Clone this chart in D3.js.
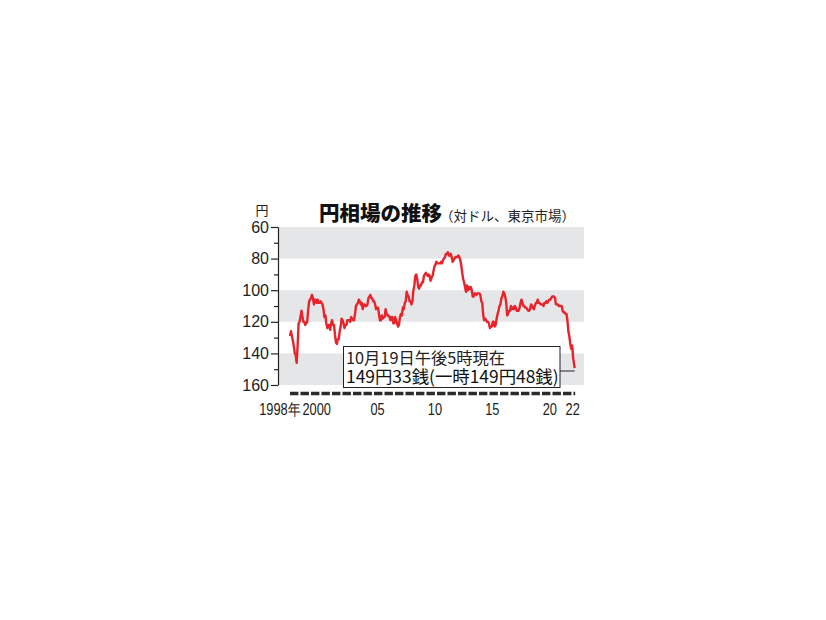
<!DOCTYPE html>
<html><head><meta charset="utf-8">
<script src="https://cdn.jsdelivr.net/npm/d3@7"></script>
<style>
html,body{margin:0;padding:0;background:#fff;}
svg{display:block;}
</style></head>
<body>
<svg id="chart" width="826" height="620"></svg>
<script>
// ---- data ----
const startMonth = "1998-01";
// monthly USD/JPY (yen per dollar), Jan 1998 .. Sep 2022
const rates1998 = [129,126,129,132,135,140,141,146,135,121,120,117];
const rates1999 = [113,117,120,120,122,121,120,113,107,106,105,103];
const rates2000 = [105,109,106,106,108,106,108,108,107,108,109,112];
const rates2001 = [117,116,121,124,122,122,125,121,119,122,122,128];
const rates2002 = [133,134,131,131,126,123,118,119,121,124,122,122];
const rates2003 = [119,119,119,120,117,118,119,119,115,110,109,108];
const rates2004 = [106,107,109,108,112,109,109,110,110,109,105,104];
const rates2005 = [103,105,105,107,107,109,112,111,111,115,119,119];
const rates2006 = [116,118,117,117,112,115,116,116,117,119,117,117];
const rates2007 = [121,121,117,119,121,123,122,117,115,116,111,112];
const rates2008 = [108,107,101,103,104,107,107,109,107,100,97,91];
const rates2009 = [90,93,98,99,97,97,95,95,91,90,89,90];
const rates2010 = [91,90,91,94,92,91,88,85,84,82,83,83];
const rates2011 = [83,83,82,83,81,80,79,77,77,76,78,78];
const rates2012 = [77,79,82,81,80,79,79,79,78,79,81,84];
const rates2013 = [89,93,95,98,101,97,100,98,99,98,100,104];
const rates2014 = [104,102,102,103,102,102,102,103,107,108,116,119];
const rates2015 = [118,119,120,120,121,124,123,123,120,120,123,122];
const rates2016 = [118,115,113,110,109,105,104,101,102,104,108,116];
const rates2017 = [115,113,113,110,112,111,112,110,111,113,113,113];
const rates2018 = [111,108,106,108,110,110,111,111,112,113,113,112];
const rates2019 = [109,110,111,112,110,108,108,106,108,108,109,109];
const rates2020 = [109,110,108,108,107,108,107,106,106,105,104,104];
const rates2021 = [104,105,109,109,109,110,110,110,110,113,114,114];
const rates2022 = [115,115,119,126,129,134,137,135,143];
const lastDate = "2022-10-19";
const lastRate = 149.33;

const yTicks = [60,80,100,120,140,160];
const yMinorTicks = [70,90,110,130,150];
const greyBands = [[60,80],[100,120],[140,160]];
const xLabels = ["1998年","2000","05","10","15","20","22"];
const xLabelYears = [1998,2000,2005,2010,2015,2020,2022];

const titleText = "円相場の推移";
const subtitleText = "（対ドル、東京市場）";
const unitText = "円";
const noteLine1 = "10月19日午後5時現在";
const noteLine2 = "149円33銭(一時149円48銭)";

// ---- build series ----
const allRates = [].concat(rates1998,rates1999,rates2000,rates2001,rates2002,rates2003,
  rates2004,rates2005,rates2006,rates2007,rates2008,rates2009,rates2010,rates2011,rates2012,
  rates2013,rates2014,rates2015,rates2016,rates2017,rates2018,rates2019,rates2020,rates2021,rates2022);
const parseMonth = d3.timeParse("%Y-%m");
const parseDay = d3.timeParse("%Y-%m-%d");
const m0 = parseMonth(startMonth);
const series = allRates.map((v,i)=>({date: d3.timeMonth.offset(m0, i), value: v}));
series.push({date: parseDay(lastDate), value: lastRate});

// ---- layout ----
const svg = d3.select("#chart");
const x = d3.scaleTime()
  .domain([new Date(1998,0,1), new Date(2023,0,1)])
  .range([290, 577]);
const y = d3.scaleLinear().domain([60,160]).range([227,385]);
const axisX = 278, bandRight = 584;

// bands
svg.append("g").selectAll("rect").data(greyBands).join("rect")
  .attr("x", axisX).attr("width", bandRight-axisX)
  .attr("y", d=>y(d[0])).attr("height", d=>y(d[1])-y(d[0]))
  .attr("fill", "#e5e6e8");

// y axis
const gy = svg.append("g").attr("transform", `translate(${axisX},0)`)
  .call(d3.axisLeft(y).tickValues(yTicks).tickSize(7).tickSizeOuter(0).tickPadding(2));
gy.select(".domain").attr("stroke","#222").attr("stroke-width",1.2);
gy.selectAll(".tick line").attr("stroke","#222").attr("stroke-width",1.2);
gy.selectAll(".tick text").attr("font-family","'Liberation Sans', Arial, sans-serif")
  .attr("font-size",16).attr("fill","#222");
const gym = svg.append("g").attr("transform", `translate(${axisX},0)`)
  .call(d3.axisLeft(y).tickValues(yMinorTicks).tickSize(4).tickSizeOuter(0).tickFormat(""));
gym.select(".domain").remove();
gym.selectAll(".tick line").attr("stroke","#222").attr("stroke-width",1.2);

// dashed x axis baseline
svg.append("line")
  .attr("x1", x(new Date(1998,0,1))).attr("x2", x(parseDay("2022-11-05")))
  .attr("y1", 393.5).attr("y2", 393.5)
  .attr("stroke","#2a2a2a").attr("stroke-width",3.4).attr("stroke-dasharray","8.4,2.1");

// x labels (condensed look)
const xl = svg.append("g").attr("font-family","'Liberation Sans', Arial, sans-serif")
  .attr("font-size",16).attr("fill","#222");
xLabels.forEach((t,i)=>{
  const yr = xLabelYears[i];
  let px, anchor = "middle";
  if (i === 0) { px = x(new Date(yr,0,1)) + 10; anchor = "end"; }
  else if (i === 1) { px = x(new Date(yr,6,1)) - 2; }
  else { px = x(new Date(yr,6,1)) + 1.5; }
  xl.append("text").attr("transform",`translate(${px},415) scale(0.8,1)`)
    .attr("text-anchor",anchor).text(t);
});

// line
const line = d3.line().x(d=>x(d.date)).y(d=>y(d.value)).curve(d3.curveLinear);
svg.append("path").datum(series).attr("d", line)
  .attr("fill","none").attr("stroke","#e8232b").attr("stroke-width",2.4)
  .attr("stroke-linejoin","round");

// annotation box
const last = series[series.length-1];
svg.append("line").attr("x1",560).attr("x2",x(last.date)).attr("y1",371).attr("y2",371)
  .attr("stroke","#222").attr("stroke-width",1);
svg.append("rect").attr("x",343.5).attr("y",346.5).attr("width",216.5).attr("height",41)
  .attr("fill","#fff").attr("stroke","#222").attr("stroke-width",1);
svg.append("text").attr("x",346).attr("y",363.5)
  .attr("font-family","'Noto Sans CJK JP', sans-serif").attr("font-size",16.3).attr("fill","#222")
  .text(noteLine1);
svg.append("text").attr("x",346).attr("y",383)
  .attr("font-family","'Noto Sans CJK JP', sans-serif").attr("font-size",17.4).attr("font-weight",400)
  .attr("fill","#111").text(noteLine2);

// titles
svg.append("text").attr("x",319).attr("y",221)
  .attr("font-family","'Noto Sans CJK JP', sans-serif").attr("font-size",20.5).attr("font-weight",900)
  .attr("fill","#111").text(titleText);
svg.append("text").attr("x",440).attr("y",221)
  .attr("font-family","'Noto Sans CJK JP', serif").attr("font-size",13.5)
  .attr("fill","#222").text(subtitleText);
svg.append("text").attr("x",262).attr("y",215).attr("text-anchor","middle")
  .attr("font-family","'Noto Sans CJK JP', sans-serif").attr("font-size",13)
  .attr("fill","#222").text(unitText);
</script>
</body></html>
